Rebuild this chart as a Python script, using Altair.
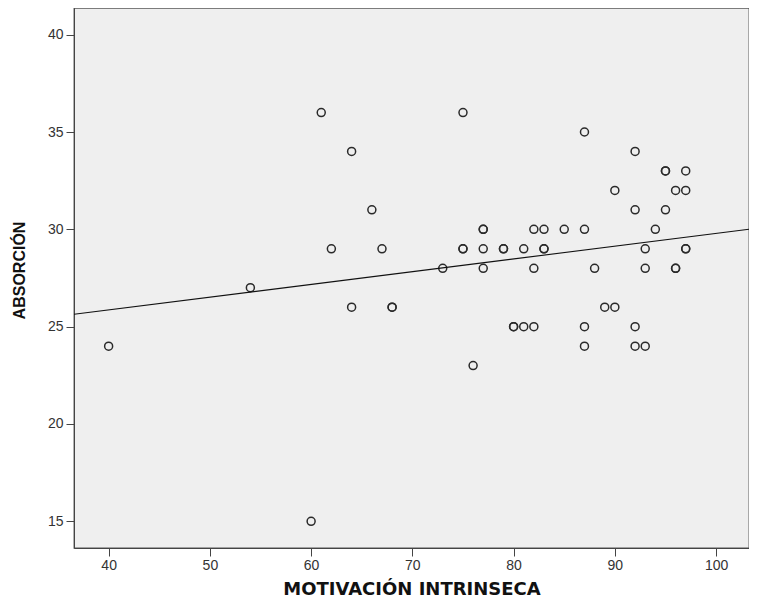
import altair as alt
import pandas as pd

# MOTIVACIÓN INTRINSECA (x) and ABSORCIÓN (y)
motivacion = [61, 64, 66, 62, 67,
              75, 87, 92, 95, 95, 97, 90, 96, 97, 92, 95,
              77, 77, 82, 83, 85, 87, 94,
              75, 75, 77, 79, 79, 81, 83, 83, 93, 97, 97,
              73, 77, 82, 88, 93, 96, 96,
              54, 64, 68, 68, 89, 90,
              80, 80, 81, 82, 87, 92,
              40, 87, 92, 93,
              76, 60]
absorcion = [36, 34, 31, 29, 29,
             36, 35, 34, 33, 33, 33, 32, 32, 32, 31, 31,
             30, 30, 30, 30, 30, 30, 30,
             29, 29, 29, 29, 29, 29, 29, 29, 29, 29, 29,
             28, 28, 28, 28, 28, 28, 28,
             27, 26, 26, 26, 26, 26,
             25, 25, 25, 25, 25, 25,
             24, 24, 24, 24,
             23, 15]

x_ticks = [40, 50, 60, 70, 80, 90, 100]
y_ticks = [15, 20, 25, 30, 35, 40]
x_domain = [36.58, 103.25]
y_domain = [13.63, 41.37]

df = pd.DataFrame({"mot": motivacion, "abs": absorcion})

x_enc = alt.X("mot:Q", title="MOTIVACIÓN INTRINSECA",
              scale=alt.Scale(domain=x_domain, nice=False, zero=False),
              axis=alt.Axis(values=x_ticks, titleFont="DejaVu Sans",
                            titleFontSize=18, titlePadding=8,
                            labelPadding=2))
y_enc = alt.Y("abs:Q", title="ABSORCIÓN",
              scale=alt.Scale(domain=y_domain, nice=False, zero=False),
              axis=alt.Axis(values=y_ticks, titleFont="Liberation Sans",
                            titleFontSize=16, titlePadding=20, titleY=262,
                            labelPadding=3))

points = alt.Chart(df).mark_point(
    shape="circle", filled=False, color="#2a2a2a", strokeWidth=1.5, size=64,
    opacity=1
).encode(x=x_enc, y=y_enc)

line = alt.Chart(df).transform_regression(
    "mot", "abs", extent=x_domain
).mark_line(color="#111111", strokeWidth=1.1, clip=True).encode(x=x_enc, y=y_enc)

chart = (points + line).properties(
    width=675, height=540,
    padding={"left": 66, "top": 0, "right": 0, "bottom": 50},
    autosize=alt.AutoSizeParams(type="none"),
    background="white",
).configure_view(
    fill="#efefef", stroke="#555555", strokeWidth=1.3
).configure_axis(
    grid=False,
    domainColor="#444444",
    tickColor="#444444",
    tickSize=8,
    labelFont="Liberation Sans",
    labelFontSize=14,
    labelColor="#333333",
    titleFontWeight="bold",
    titleColor="#111111",
)

chart.save("out.html", embed_options={"renderer": "svg", "actions": False})
